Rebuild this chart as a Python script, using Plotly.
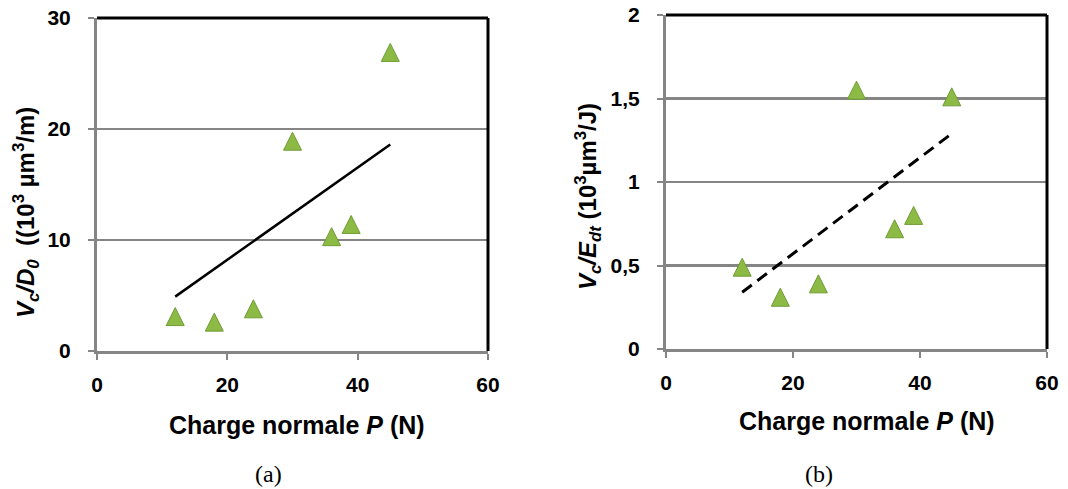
import plotly.graph_objects as go

# ---- data ----
charge_P = [12, 18, 24, 30, 36, 39, 45]
vc_d0 = [3.1, 2.6, 3.8, 18.9, 10.3, 11.4, 26.9]          # panel (a)
vc_edt = [0.49, 0.31, 0.39, 1.55, 0.72, 0.80, 1.51]      # panel (b)
trend_x = [12, 45]
trend_a = [4.9, 18.6]
trend_b = [0.34, 1.29]

x_ticks = [0, 20, 40, 60]
ya_ticks = [0, 10, 20, 30]
yb_ticks = [0, 0.5, 1, 1.5, 2]
yb_ticktext = ["0", "0,5", "1", "1,5", "2"]

W, H = 1068, 489
GRAY = "#858585"
GREEN = "#8CBA45"
GREEN_EDGE = "#6F9C35"
FONT = "Liberation Sans, Arial, sans-serif"

fig = go.Figure()

marker = dict(symbol="arrow-down", angle=180, size=18, standoff=9,
              color=GREEN, line=dict(color=GREEN_EDGE, width=1))

fig.add_trace(go.Scatter(x=charge_P, y=vc_d0, mode="markers", marker=marker,
                         xaxis="x", yaxis="y", showlegend=False))
fig.add_trace(go.Scatter(x=trend_x, y=trend_a, mode="lines",
                         line=dict(color="black", width=2.5),
                         xaxis="x", yaxis="y", showlegend=False))
fig.add_trace(go.Scatter(x=charge_P, y=vc_edt, mode="markers", marker=marker,
                         xaxis="x2", yaxis="y2", showlegend=False))
fig.add_trace(go.Scatter(x=trend_x, y=trend_b, mode="lines",
                         line=dict(color="black", width=3, dash="12px,7px"),
                         xaxis="x2", yaxis="y2", showlegend=False))

tickfont = dict(family=FONT, size=21, color="black", weight="bold")

common_x = dict(range=[0, 60], tickvals=x_ticks, showline=True, linecolor=GRAY,
                linewidth=3, ticks="outside", ticklen=6, tickwidth=2, tickcolor=GRAY,
                showgrid=False, zeroline=False, tickfont=tickfont, fixedrange=True,
                automargin=False, ticklabelstandoff=7)
common_y = dict(showline=True, linecolor=GRAY, linewidth=3, ticks="outside",
                ticklen=6, tickwidth=2, tickcolor=GRAY, showgrid=True,
                gridcolor=GRAY, gridwidth=2.5, zeroline=False, tickfont=tickfont,
                fixedrange=True, automargin=False, ticklabelstandoff=13)

fig.update_layout(
    width=W, height=H,
    margin=dict(l=0, r=0, t=0, b=0, autoexpand=False),
    paper_bgcolor="white", plot_bgcolor="white",
    showlegend=False,
    xaxis=dict(domain=[97 / W, 488 / W], anchor="y", **common_x),
    yaxis=dict(domain=[1 - 351 / H, 1 - 18 / H], anchor="x", range=[0, 30],
               tickvals=ya_ticks, **common_y),
    xaxis2=dict(domain=[666 / W, 1047 / W], anchor="y2", **common_x),
    yaxis2=dict(domain=[1 - 349 / H, 1 - 15 / H], anchor="x2", range=[0, 2],
                tickvals=yb_ticks, ticktext=yb_ticktext, **common_y),
)

# black top / right frame lines
for xr, yr in (("x domain", "y domain"), ("x2 domain", "y2 domain")):
    fig.add_shape(type="line", xref=xr, yref=yr, x0=0, x1=1, y0=1, y1=1,
                  line=dict(color="black", width=3))
    fig.add_shape(type="line", xref=xr, yref=yr, x0=1, x1=1, y0=0, y1=1,
                  line=dict(color="black", width=3))

title_font = dict(family=FONT, size=25, color="black", weight="bold")
ytitle_font = dict(family=FONT, size=24, color="black", weight="bold")
ann = [
    dict(x=297 / W, y=1 - 425 / H, text="Charge normale <i>P</i> (N)", font=title_font),
    dict(x=867 / W, y=1 - 421 / H, text="Charge normale <i>P</i> (N)", font=title_font),
    dict(x=26 / W, y=1 - 213 / H, textangle=-90, font=ytitle_font,
         text="<i>V<sub>c</sub>/D<sub>0</sub></i>  ((10<sup>3</sup> µm<sup>3</sup>/m)"),
    dict(x=588 / W, y=1 - 197 / H, textangle=-90, font=ytitle_font,
         text="<i>V<sub>c</sub>/E<sub>dt</sub></i> (10<sup>3</sup>µm<sup>3</sup>/J)"),
]
for a in ann:
    fig.add_annotation(xref="paper", yref="paper", showarrow=False,
                       xanchor="center", yanchor="middle", **a)

cap_font = dict(family="Liberation Serif, DejaVu Serif, serif", size=24, color="black")
for cx, txt in ((268, "(a)"), (819, "(b)")):
    fig.add_annotation(xref="paper", yref="paper", x=cx / W, y=1 - 474 / H,
                       text=txt, showarrow=False, xanchor="center",
                       yanchor="middle", font=cap_font)

fig.write_html("out.html",
               config={"displayModeBar": False, "staticPlot": True},
               post_script="document.body.style.margin='0';"
                           "document.body.style.overflow='hidden';")
